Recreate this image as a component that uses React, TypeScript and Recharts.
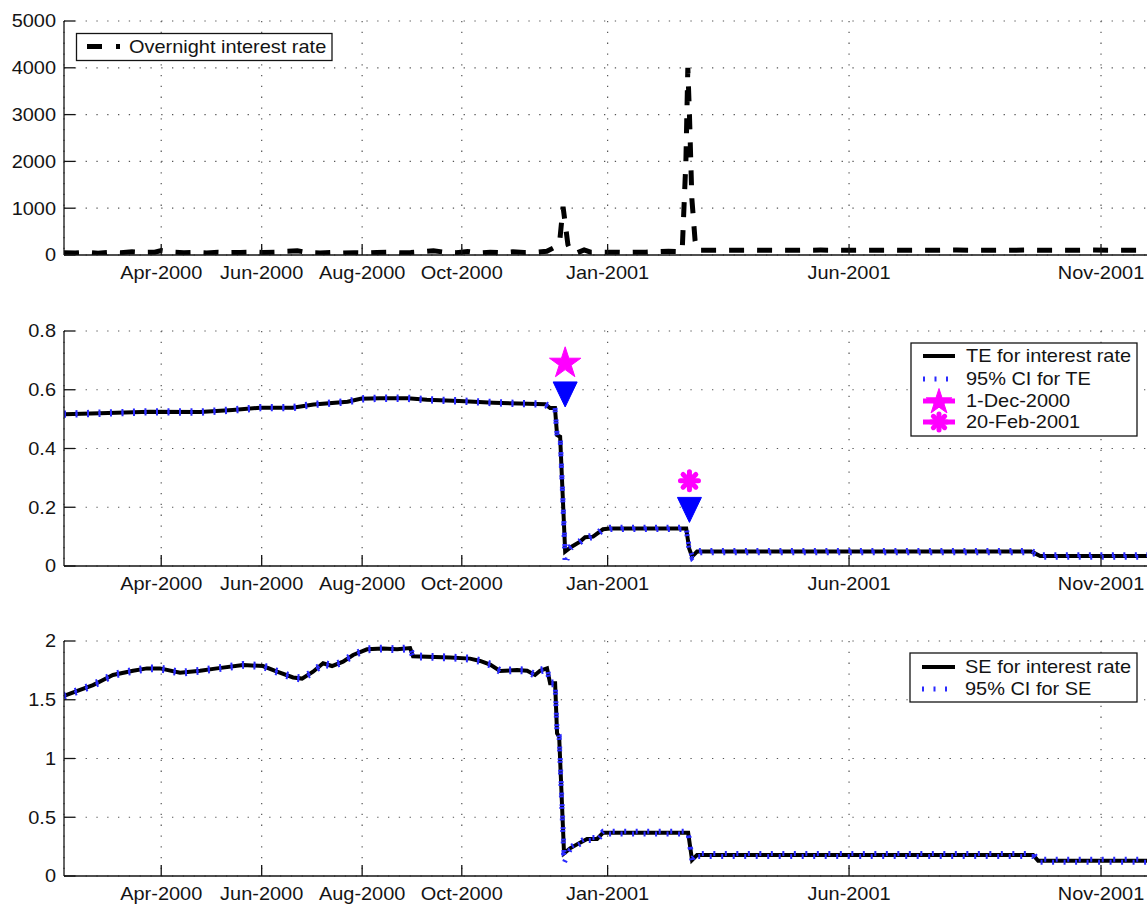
import React from 'react';
import { ComposedChart, Line, XAxis, YAxis, CartesianGrid, Scatter } from 'recharts';

const FONT = '"Liberation Sans", Arial, Helvetica, sans-serif';
const FS = 17.5;
const SX = 1.14;
const INK = '#141414';
const MAGENTA = '#ff00ff';
const BLUE = '#0000ff';
const CI_BLUE = '#2a2aff';

// x axis: days since 1-Jan-2000
const xDomain = [31, 700];
const xTickDays = [91, 153, 215, 276.5, 366.5, 515.5, 671];
const xTickLabels = ['Apr-2000', 'Jun-2000', 'Aug-2000', 'Oct-2000', 'Jan-2001', 'Jun-2001', 'Nov-2001'];

// Panel 1: overnight interest rate
const onYTicks = [0, 1000, 2000, 3000, 4000, 5000];
const onYLabels = ['0', '1000', '2000', '3000', '4000', '5000'];
const onDays = [
  31, 38, 45, 52, 59, 66, 73, 80, 87, 91, 98, 105, 112, 119, 126, 133, 140, 147, 154, 161,
  168, 175, 182, 189, 196, 203, 210, 217, 224, 231, 238, 245, 252, 259, 266, 273, 280, 287, 294, 301,
  308, 315, 322, 329, 333, 337, 339, 342, 344, 348, 352, 356, 362, 369, 376, 383, 390, 397, 404, 410,
  412.5, 414.8, 416, 417, 418.5, 420.5, 422, 428, 442, 456, 470, 484, 498, 512, 526, 540, 554, 568, 582, 596,
  610, 624, 638, 652, 666, 680, 700,
];
const onValues = [
  50, 45, 60, 40, 55, 50, 70, 55, 60, 95, 60, 50, 55, 45, 60, 50, 55, 60, 55, 60,
  80, 90, 50, 45, 55, 40, 50, 45, 55, 60, 50, 55, 70, 90, 60, 50, 75, 45, 60, 50,
  70, 55, 60, 80, 150, 320, 1030, 220, 60, 50, 110, 60, 60, 60, 55, 60, 60, 70, 80, 75,
  70, 2000, 4000, 3000, 1200, 300, 100, 100, 100, 105, 100, 100, 105, 100, 100, 105, 100, 100, 105, 100,
  100, 105, 100, 100, 105, 100, 100,
];

// Panel 2: TE
const teYTicks = [0, 0.2, 0.4, 0.6, 0.8];
const teYLabels = ['0', '0.2', '0.4', '0.6', '0.8'];
const teDays = [
  31, 53, 84, 115, 135, 152, 172, 185, 206, 214, 226, 243, 255, 275, 296, 312, 328, 331, 334, 335.3,
  337.2, 338.7, 340.3, 344, 349.5, 352.6, 357.5, 363.7, 368, 415, 416.8, 418.6, 421.7, 628, 633.5, 700,
];
const teValues = [
  0.517, 0.52, 0.525, 0.524, 0.531, 0.539, 0.539, 0.55, 0.559, 0.569, 0.571, 0.571, 0.566, 0.562, 0.556, 0.553, 0.551, 0.538, 0.538, 0.446,
  0.44, 0.25, 0.049, 0.065, 0.083, 0.098, 0.1, 0.125, 0.128, 0.128, 0.06, 0.032, 0.049, 0.049, 0.034, 0.034,
];
const teCiLow = [
  0.513, 0.516, 0.521, 0.52, 0.527, 0.535, 0.535, 0.546, 0.555, 0.565, 0.567, 0.567, 0.562, 0.558, 0.552, 0.549, 0.547, 0.534, 0.534, 0.442,
  0.436, 0.246, 0.005, 0.061, 0.079, 0.094, 0.096, 0.121, 0.124, 0.124, 0.056, 0.028, 0.045, 0.045, 0.03, 0.03,
];
const teCiHigh = [
  0.521, 0.524, 0.529, 0.528, 0.535, 0.543, 0.543, 0.554, 0.563, 0.573, 0.575, 0.575, 0.57, 0.566, 0.56, 0.557, 0.555, 0.542, 0.542, 0.45,
  0.444, 0.254, 0.053, 0.069, 0.087, 0.102, 0.104, 0.129, 0.132, 0.132, 0.064, 0.036, 0.053, 0.053, 0.038, 0.038,
];
const markerDays = [340.3, 417];
const starValues = [0.69];
const asteriskValues = [0.29];
const triangleValues = [0.584, 0.191];

// Panel 3: SE
const seYTicks = [0, 0.5, 1, 1.5, 2];
const seYLabels = ['0', '0.5', '1', '1.5', '2'];
const seDays = [
  31, 40.9, 48.9, 55.1, 61.2, 73.6, 82.2, 90.3, 102.6, 115, 125.4, 141.5, 153.8, 162.5, 172.4, 177.9, 184.7, 190.9, 196.4, 203.2,
  209.4, 218, 227.9, 236.6, 244.6, 246.4, 269.3, 281.6, 287.8, 294, 300.1, 310.6, 316.8, 321.7, 324.8, 329.1, 331, 334.1, 335.3, 336.6,
  339.6, 343.3, 349.5, 353.8, 360, 363.7, 416.2, 418.6, 421.7, 629.1, 632.2, 700,
];
const seValues = [
  1.532, 1.583, 1.625, 1.668, 1.711, 1.747, 1.767, 1.767, 1.73, 1.747, 1.767, 1.796, 1.787, 1.739, 1.69, 1.68, 1.739, 1.81, 1.787, 1.824,
  1.881, 1.929, 1.936, 1.929, 1.94, 1.87, 1.86, 1.85, 1.83, 1.8, 1.745, 1.753, 1.747, 1.711, 1.747, 1.767, 1.64, 1.64, 1.214, 1.185,
  0.193, 0.235, 0.284, 0.315, 0.315, 0.369, 0.369, 0.136, 0.179, 0.179, 0.13, 0.13,
];
const seCiLow = [
  1.52, 1.571, 1.613, 1.656, 1.699, 1.735, 1.755, 1.755, 1.718, 1.735, 1.755, 1.784, 1.775, 1.727, 1.678, 1.668, 1.727, 1.798, 1.775, 1.812,
  1.869, 1.917, 1.924, 1.917, 1.928, 1.858, 1.848, 1.838, 1.818, 1.788, 1.733, 1.741, 1.735, 1.699, 1.735, 1.755, 1.628, 1.628, 1.202, 1.173,
  0.11, 0.223, 0.272, 0.303, 0.303, 0.357, 0.357, 0.124, 0.167, 0.167, 0.118, 0.118,
];
const seCiHigh = [
  1.544, 1.595, 1.637, 1.68, 1.723, 1.759, 1.779, 1.779, 1.742, 1.759, 1.779, 1.808, 1.799, 1.751, 1.702, 1.692, 1.751, 1.822, 1.799, 1.836,
  1.893, 1.941, 1.948, 1.941, 1.952, 1.882, 1.872, 1.862, 1.842, 1.812, 1.757, 1.765, 1.759, 1.723, 1.759, 1.779, 1.652, 1.652, 1.226, 1.197,
  0.205, 0.247, 0.296, 0.327, 0.327, 0.381, 0.381, 0.148, 0.191, 0.191, 0.142, 0.142,
];

const legend1 = ['Overnight interest rate'];
const legend2 = ['TE for interest rate', '95% CI for TE', '1-Dec-2000', '20-Feb-2001'];
const legend3 = ['SE for interest rate', '95% CI for SE'];

const toRows = (days: number[], vals: number[]) => days.map((d, i) => ({ d, v: vals[i] }));

function Label({ x, y, anchor, children }: any) {
  return (
    <text
      transform={`translate(${x},${y}) scale(${SX},1)`}
      textAnchor={anchor}
      dy="0.36em"
      fontSize={FS}
      fontFamily={FONT}
      fill={INK}
    >
      {children}
    </text>
  );
}

function XTick(props: any) {
  const { x, y, payload } = props;
  const i = xTickDays.indexOf(payload.value);
  return (
    <text
      transform={`translate(${x},${y}) scale(${SX},1)`}
      textAnchor="middle"
      dy="0.72em"
      fontSize={FS}
      fontFamily={FONT}
      fill={INK}
    >
      {xTickLabels[i]}
    </text>
  );
}

const makeYTick = (ticks: number[], labels: string[]) => (props: any) => {
  const { x, y, payload } = props;
  const i = ticks.indexOf(payload.value);
  return <Label x={x} y={y} anchor="end">{labels[i]}</Label>;
};

function starPath(cx: number, cy: number, R: number) {
  const r = R * 0.382;
  let s = '';
  for (let i = 0; i < 10; i++) {
    const a = -Math.PI / 2 + (i * Math.PI) / 5;
    const rad = i % 2 === 0 ? R : r;
    s += (i ? 'L' : 'M') + (cx + rad * Math.cos(a)).toFixed(2) + ' ' + (cy + rad * Math.sin(a)).toFixed(2);
  }
  return s + 'Z';
}

function Asterisk({ cx, cy, r }: any) {
  const arms = [0, 45, 90, 135];
  return (
    <g stroke={MAGENTA} strokeWidth={5} strokeLinecap="round">
      {arms.map((deg) => {
        const a = (deg * Math.PI) / 180;
        return (
          <line
            key={deg}
            x1={cx - r * Math.cos(a)}
            y1={cy - r * Math.sin(a)}
            x2={cx + r * Math.cos(a)}
            y2={cy + r * Math.sin(a)}
          />
        );
      })}
    </g>
  );
}

const StarShape = (p: any) => <path d={starPath(p.cx, p.cy, 16.5)} fill={MAGENTA} stroke={MAGENTA} />;
const TriShape = (p: any) => (
  <path d={`M${p.cx - 12} ${p.cy - 12.5}L${p.cx + 12} ${p.cy - 12.5}L${p.cx} ${p.cy + 12.5}Z`} fill={BLUE} stroke={BLUE} />
);
const AstShape = (p: any) => <Asterisk cx={p.cx} cy={p.cy} r={9} />;

const axisStroke = { stroke: INK, strokeWidth: 1.3 };

function Panel({ top, height, bottom, yDomain, yTicks, yLabels, children }: any) {
  return (
    <div style={{ position: 'absolute', left: 0, top }}>
      <ComposedChart width={1160} height={height} margin={{ top: 21, right: 12, bottom, left: 0 }}>
        <CartesianGrid stroke="#555" strokeWidth={1.2} strokeDasharray="1.3 9.5" />
        <XAxis
          dataKey="d"
          type="number"
          domain={xDomain}
          ticks={xTickDays}
          interval={0}
          allowDataOverflow
          height={30}
          tickSize={-11}
          tickMargin={22}
          tick={(p: any) => <XTick {...p} />}
          axisLine={axisStroke}
          tickLine={axisStroke}
        />
        <XAxis
          xAxisId="t"
          orientation="top"
          dataKey="d"
          type="number"
          domain={xDomain}
          ticks={xTickDays}
          interval={0}
          allowDataOverflow
          height={0}
          tickSize={-11}
          tick={false}
          axisLine={axisStroke}
          tickLine={axisStroke}
        />
        <YAxis
          type="number"
          domain={yDomain}
          ticks={yTicks}
          interval={0}
          allowDataOverflow
          width={64}
          tickSize={-11}
          tickMargin={19}
          tick={makeYTick(yTicks, yLabels)}
          axisLine={axisStroke}
          tickLine={axisStroke}
        />
        <YAxis
          yAxisId="r"
          orientation="right"
          type="number"
          domain={yDomain}
          ticks={yTicks}
          interval={0}
          allowDataOverflow
          width={0}
          tickSize={-11}
          tick={false}
          axisLine={axisStroke}
          tickLine={axisStroke}
        />
        {children}
      </ComposedChart>
    </div>
  );
}

function Legends() {
  const sx0 = 923;
  const sx1 = 955;
  const cxm = 939;
  return (
    <svg width={1147} height={905} style={{ position: 'absolute', left: 0, top: 0, pointerEvents: 'none' }}>
      {/* panel 1 */}
      <rect x={76.5} y={33.5} width={255.5} height={27} fill="#fff" stroke={INK} strokeWidth={1.3} />
      <line x1={87} y1={46.5} x2={102} y2={46.5} stroke="#000" strokeWidth={5} />
      <line x1={116} y1={46.5} x2={120} y2={46.5} stroke="#000" strokeWidth={5} />
      <Label x={129} y={46.5} anchor="start">{legend1[0]}</Label>

      {/* panel 2 */}
      <rect x={911} y={343} width={226} height={93} fill="#fff" stroke={INK} strokeWidth={1.3} />
      <line x1={sx0} y1={356} x2={sx1} y2={356} stroke="#000" strokeWidth={4} />
      <Label x={966} y={356} anchor="start">{legend2[0]}</Label>
      <line x1={sx0} y1={379} x2={sx1} y2={379} stroke={CI_BLUE} strokeWidth={5} strokeDasharray="2 9.5" />
      <Label x={966} y={379} anchor="start">{legend2[1]}</Label>
      <line x1={sx0} y1={401} x2={sx1} y2={401} stroke={MAGENTA} strokeWidth={5} />
      <path d={starPath(cxm, 402, 13.5)} fill={MAGENTA} stroke={MAGENTA} />
      <Label x={966} y={401} anchor="start">{legend2[2]}</Label>
      <line x1={sx0} y1={422} x2={sx1} y2={422} stroke={MAGENTA} strokeWidth={5} />
      <Asterisk cx={cxm} cy={422} r={8} />
      <Label x={966} y={422} anchor="start">{legend2[3]}</Label>

      {/* panel 3 */}
      <rect x={910} y={653} width={227} height={49} fill="#fff" stroke={INK} strokeWidth={1.3} />
      <line x1={922} y1={667} x2={955} y2={667} stroke="#000" strokeWidth={4} />
      <Label x={965} y={667} anchor="start">{legend3[0]}</Label>
      <line x1={922} y1={689} x2={955} y2={689} stroke={CI_BLUE} strokeWidth={5} strokeDasharray="2 9.5" />
      <Label x={965} y={689} anchor="start">{legend3[1]}</Label>
    </svg>
  );
}

export default function App() {
  const ciProps = {
    dataKey: 'v',
    stroke: CI_BLUE,
    strokeWidth: 5,
    strokeDasharray: '2 9.5',
    dot: false,
    activeDot: false,
    isAnimationActive: false,
    type: 'linear' as const,
  };
  return (
    <div style={{ position: 'absolute', left: 0, top: 0, width: 1147, height: 905, overflow: 'hidden', background: '#fff' }}>
      <Panel top={0} height={300} bottom={15} yDomain={[0, 5000]} yTicks={onYTicks} yLabels={onYLabels}>
        <Line
          data={toRows(onDays, onValues)}
          dataKey="v"
          type="linear"
          stroke="#000"
          strokeWidth={5}
          strokeDasharray="15 13"
          dot={false}
          activeDot={false}
          isAnimationActive={false}
        />
      </Panel>
      <Panel top={310} height={300} bottom={14} yDomain={[0, 0.8]} yTicks={teYTicks} yLabels={teYLabels}>
        <Line
          data={toRows(teDays, teValues)}
          dataKey="v"
          type="linear"
          stroke="#000"
          strokeWidth={4}
          dot={false}
          activeDot={false}
          isAnimationActive={false}
        />
        <Line data={toRows(teDays, teCiLow)} {...ciProps} />
        <Line data={toRows(teDays, teCiHigh)} {...ciProps} />
        <Scatter data={toRows([markerDays[0]], starValues)} dataKey="v" shape={StarShape} isAnimationActive={false} />
        <Scatter data={toRows(markerDays, triangleValues)} dataKey="v" shape={TriShape} isAnimationActive={false} />
        <Scatter data={toRows([markerDays[1]], asteriskValues)} dataKey="v" shape={AstShape} isAnimationActive={false} />
      </Panel>
      <Panel top={620} height={290} bottom={4} yDomain={[0, 2]} yTicks={seYTicks} yLabels={seYLabels}>
        <Line
          data={toRows(seDays, seValues)}
          dataKey="v"
          type="linear"
          stroke="#000"
          strokeWidth={4}
          dot={false}
          activeDot={false}
          isAnimationActive={false}
        />
        <Line data={toRows(seDays, seCiLow)} {...ciProps} />
        <Line data={toRows(seDays, seCiHigh)} {...ciProps} />
      </Panel>
      <Legends />
    </div>
  );
}
